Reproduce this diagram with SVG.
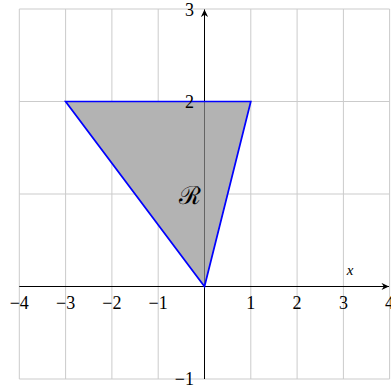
<svg xmlns="http://www.w3.org/2000/svg" width="391" height="385" viewBox="0 0 391 385">
  <style>
    .grid line { stroke: #cbcbcb; stroke-width: 1; }
    .axis { stroke: #000; stroke-width: 1; fill: none; }
    text { font-family: 'Liberation Serif', 'Times New Roman', serif; fill: #000; }
  </style>
  <defs>
    <marker id="arr" viewBox="-8 -4 9 8" refX="0" refY="0" markerWidth="9" markerHeight="8" markerUnits="userSpaceOnUse" orient="auto">
      <path d="M0,0 L-7.5,-3.6 L-5.2,0 L-7.5,3.6 Z" fill="#000"/>
    </marker>
  </defs>
  <rect width="391" height="385" fill="#fff"/>
  <g id="grid" class="grid">
    <line x1="19.3" y1="9" x2="19.3" y2="379"/>
    <line x1="65.6" y1="9" x2="65.6" y2="379"/>
    <line x1="111.9" y1="9" x2="111.9" y2="379"/>
    <line x1="158.2" y1="9" x2="158.2" y2="379"/>
    <line x1="204.5" y1="9" x2="204.5" y2="379"/>
    <line x1="250.8" y1="9" x2="250.8" y2="379"/>
    <line x1="297.1" y1="9" x2="297.1" y2="379"/>
    <line x1="343.4" y1="9" x2="343.4" y2="379"/>
    <line x1="389.6" y1="9" x2="389.6" y2="379"/>
    <line x1="19.3" y1="9" x2="389.6" y2="9"/>
    <line x1="19.3" y1="101.5" x2="389.6" y2="101.5"/>
    <line x1="19.3" y1="194" x2="389.6" y2="194"/>
    <line x1="19.3" y1="286.5" x2="389.6" y2="286.5"/>
    <line x1="19.3" y1="379" x2="389.6" y2="379"/>
  </g>
  <g id="region-base">
    <polygon points="65.6,101.5 250.8,101.5 204.5,286.5" fill="#fff"/>
  </g>
  <g id="axes">
    <line class="axis" x1="19.3" y1="286.5" x2="389" y2="286.5" marker-end="url(#arr)"/>
    <line class="axis" x1="204.5" y1="379" x2="204.5" y2="9.5" marker-end="url(#arr)"/>
  </g>
  <g id="region">
    <polygon points="65.6,101.5 250.8,101.5 204.5,286.5" fill="#919191" fill-opacity="0.69" stroke="#0000ff" stroke-width="1.7" stroke-linejoin="miter"/>
    <text x="190" y="204" font-size="25" text-anchor="middle">ℛ</text>
  </g>
  <g id="labels" font-size="18">
    <text x="19.3" y="308.5" text-anchor="middle">−4</text>
    <text x="65.6" y="308.5" text-anchor="middle">−3</text>
    <text x="111.9" y="308.5" text-anchor="middle">−2</text>
    <text x="158.2" y="308.5" text-anchor="middle">−1</text>
    <text x="250.8" y="308.5" text-anchor="middle">1</text>
    <text x="297.1" y="308.5" text-anchor="middle">2</text>
    <text x="343.4" y="308.5" text-anchor="middle">3</text>
    <text x="389.6" y="308.5" text-anchor="middle">4</text>
    <text x="194" y="15.5" text-anchor="end">3</text>
    <text x="194" y="108" text-anchor="end">2</text>
    <text x="194" y="385" text-anchor="end">−1</text>
    <text x="350" y="275" text-anchor="middle" font-style="italic" font-size="15">x</text>
  </g>
</svg>
